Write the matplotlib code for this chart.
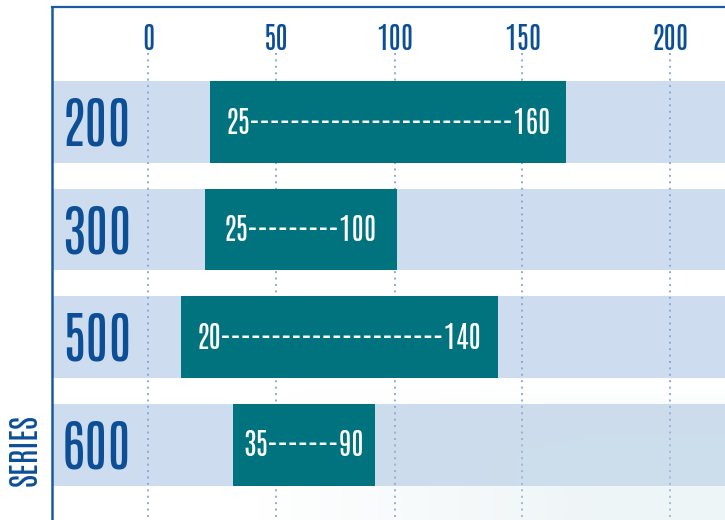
"""Range bars per series (min---max) on light bands."""
import numpy as np
import matplotlib
matplotlib.use("Agg")
import matplotlib.pyplot as plt
from matplotlib import font_manager
from matplotlib.font_manager import FontProperties

# data
series = ["200", "300", "500", "600"]
lows = [25, 25, 20, 35]
highs = [160, 100, 140, 90]
dashes = [26, 9, 22, 7]
bar_start = [25.1, 23.0, 13.3, 34.3]      # drawn extent of each bar (axis units)
bar_end = [169.6, 100.8, 141.8, 91.9]
tick_pos = [0, 51.8, 100, 151.8, 211.8]
tick_labels = ["0", "50", "100", "150", "200"]

BLUE = "#0c4f97"
TEAL = "#00737f"
BAND = "#cddcee"
GRID = "#8eaad0"


def pick_font(cands):
    for name in cands:
        try:
            font_manager.findfont(FontProperties(family=name), fallback_to_default=False)
            return name
        except ValueError:
            continue
    return "DejaVu Sans"


FONT = pick_font(["Antonio", "Oswald", "Roboto Condensed", "Barlow Condensed"])
plt.rcParams["font.family"] = [FONT, "DejaVu Sans"]

fig = plt.figure(figsize=(7.25, 5.2), dpi=100)
ax = fig.add_axes([52 / 725, 0, 1 - 52 / 725, 513 / 520])

y = np.arange(len(series))

# background bands
for yi in y:
    ax.axhspan(yi - 0.38, yi + 0.38, color=BAND, lw=0, zorder=1)

# dotted gridlines
ax.vlines(tick_pos, -0.64, 3.70, colors=GRID, lw=1.4,
          linestyles=(0, (1.0, 2.3)), zorder=2)
for xp, lab in zip(tick_pos, tick_labels):
    ax.text(xp, -0.669, lab, ha="center", va="baseline", color=BLUE,
            fontsize=21.5, fontweight="bold", zorder=5)

# range bars
ax.barh(y, np.array(bar_end) - np.array(bar_start), left=bar_start,
        height=0.76, color=TEAL, lw=0, zorder=3)
for yi, lo, hi, nd, s, e in zip(y, lows, highs, dashes, bar_start, bar_end):
    ax.text((s + e) / 2, yi + 0.107, f"{lo}{'-' * nd}{hi}", ha="center",
            va="baseline", color="white", fontsize=21.5, zorder=5)

# category labels
for yi, name in zip(y, series):
    ax.text(-35.0, yi + 0.22, name, ha="left", va="baseline", color=BLUE,
            fontsize=40, fontweight="bold", zorder=5)

fig.text(25 / 725, 1 - 450 / 520, "SERIES", rotation=90, ha="center",
         va="center", color=BLUE, fontsize=23, fontweight="bold")

# faint wash in the lower right corner
gx, gy = np.meshgrid(np.linspace(0, 1, 300), np.linspace(0, 1, 200))
alpha = 0.32 * np.clip((gx - 0.3) / 0.5, 0, 1) * np.clip(gy / 0.5, 0, 1)
wash = np.zeros((200, 300, 4))
wash[..., :3] = (0.80, 0.88, 0.90)
wash[..., 3] = alpha
ax.imshow(wash, extent=(-39, 234, 3.70, 2.45), aspect="auto", origin="upper",
          zorder=2.5, interpolation="bilinear")
ax.set_xlim(-39, 234)
ax.set_ylim(3.70, -1.07)

for side in ("right", "bottom"):
    ax.spines[side].set_visible(False)
ax.spines["left"].set_color("#1a5aa2")
ax.spines["left"].set_linewidth(1.8)
ax.spines["top"].set_color("#1a5aa2")
ax.spines["top"].set_linewidth(1.6)
ax.set_xticks([])
ax.set_yticks([])

fig.savefig("out.png", dpi=100)
